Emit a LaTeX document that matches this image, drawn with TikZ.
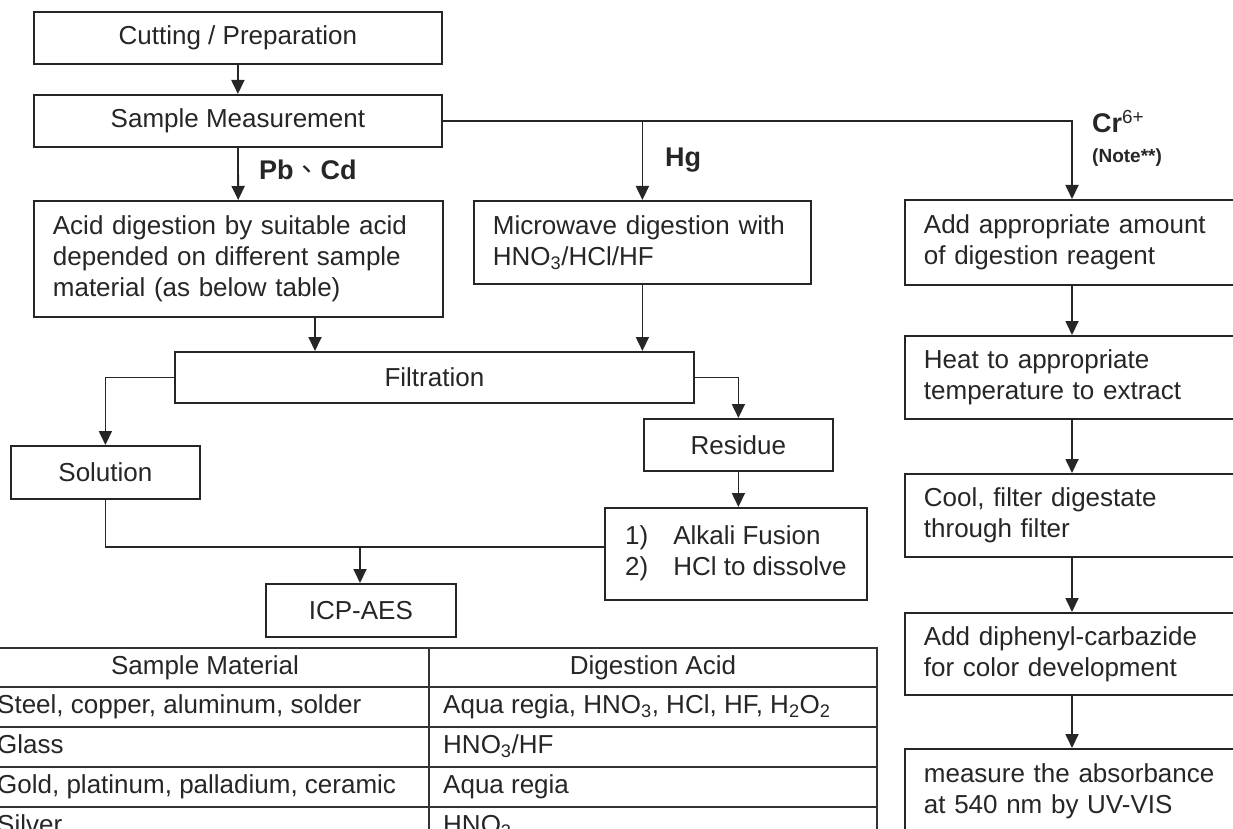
\documentclass[tikz,border=0pt]{standalone}
\usepackage{fontspec}
\setmainfont{Liberation Sans}
\newfontfamily\cjk{Noto Sans CJK TC}
\usetikzlibrary{arrows.meta}
\begin{document}
\begin{tikzpicture}[x=1pt,y=-1pt,
  box/.style={draw=black!85, line width=1.8pt, inner sep=0pt, anchor=north west, text=black!85, font=\fontsize{26}{31}\selectfont},
  cbox/.style={box, align=center},
  lbox/.style={box, align=left, inner xsep=19pt},
  arr/.style={draw=black!85, line width=1.8pt, -{Triangle[length=14pt,width=13pt]}},
  ln/.style={draw=black!85, line width=1.8pt},
  lab/.style={font=\fontsize{27}{30}\selectfont\bfseries, anchor=west, inner sep=0pt, text=black!85},
  tline/.style={draw=black!80, line width=1.5pt},
  cell/.style={font=\fontsize{26}{31}\selectfont, inner sep=0pt, text=black!85, text height=19pt, text depth=6pt}
]
\useasboundingbox (0,0) rectangle (1233,829);
\fill[white] (0,0) rectangle (1233,829);
\clip (0,0) rectangle (1233,829);

% left / middle flow
\node[cbox, minimum width=408pt, minimum height=52pt] (cut) at (33,11) {Cutting / Preparation};
\node[cbox, minimum width=408pt, minimum height=52pt] (meas) at (33,94) {Sample Measurement};
\node[lbox, text width=371pt, minimum height=116pt] (acid) at (33,200) {Acid digestion by suitable acid\\depended on different sample\\material (as below table)};
\node[lbox, text width=299pt, minimum height=83pt] (micro) at (473,200) {Microwave digestion with\\HNO\textsubscript{3}/HCl/HF};
\node[cbox, minimum width=519pt, minimum height=51pt] (filt) at (174,351) {Filtration};
\node[cbox, minimum width=189pt, minimum height=53pt] (sol) at (10,445) {Solution};
\node[cbox, minimum width=189pt, minimum height=52pt] (res) at (643,418) {Residue};
\node[box, minimum width=262pt, minimum height=92pt] (alk) at (604,507) {\begin{tabular}{@{}l@{\hspace{25pt}}l@{}}1) & Alkali Fusion\\ 2) & HCl to dissolve\end{tabular}};
\node[cbox, minimum width=190pt, minimum height=53pt] (icp) at (265,583) {ICP-AES};

% right column
\node[lbox, text width=308pt, minimum height=85pt] (add) at (904,199) {Add appropriate amount\\of digestion reagent};
\node[lbox, text width=308pt, minimum height=83pt] (heat) at (904,335) {Heat to appropriate\\temperature to extract};
\node[lbox, text width=308pt, minimum height=83pt] (cool) at (904,473) {Cool, filter digestate\\through filter};
\node[lbox, text width=308pt, minimum height=82pt] (diph) at (904,612) {Add diphenyl-carbazide\\for color development};
\node[lbox, text width=308pt, minimum height=84pt] (msr) at (904,748) {measure the absorbance\\at 540 nm by UV-VIS};

% labels
\node[lab] (pbcd) at (259,170) {Pb{\cjk\mdseries 、}Cd};
\node[lab] (hg) at (665,160) {Hg};
\node[lab, anchor=base west] (cr) at (1092,133) {Cr\textsuperscript{\mdseries 6+}};
\node[font=\fontsize{19}{22}\selectfont\bfseries, anchor=west, inner sep=0pt, text=black!85] (note) at (1092,158) {(Note**)};

% connectors
\coordinate (crx) at (1072,0);
\coordinate (ax) at (315,0);
\coordinate (join) at (360,547);
\draw[arr] (cut) -- (meas);
\draw[arr] (meas) -- (acid);
\draw[arr] (meas.east) -| (add.north -| crx);
\draw[arr] (micro.north |- meas.east) -- (micro.north);
\draw[arr] (acid.south -| ax) -- (filt.north -| ax);
\draw[arr] (micro.south) -- (micro.south |- filt.north);
\draw[arr] (filt.west) -| (sol.north);
\draw[arr] (filt.east) -| (res.north);
\draw[arr] (res) -- (res.south |- alk.north);
\draw[ln] (sol.south) |- (join) -- (join -| alk.west);
\draw[arr] (join) -- (join |- icp.north);
\draw[arr] (add.south -| crx) -- (heat.north -| crx);
\draw[arr] (heat.south -| crx) -- (cool.north -| crx);
\draw[arr] (cool.south -| crx) -- (diph.north -| crx);
\draw[arr] (diph.south -| crx) -- (msr.north -| crx);

% table
\draw[tline] (-19,648) rectangle (877,880);
\draw[tline] (429,648) -- (429,880);
\foreach \yy in {687,727,767,807,847} \draw[tline] (-19,\yy) -- (877,\yy);
\node[cell] (h1) at (205,667.5) {Sample Material};
\node[cell] (h2) at (653,667.5) {Digestion Acid};
\node[cell, anchor=west] (m1) at (-3,707) {Steel, copper, aluminum, solder};
\node[cell, anchor=west] (a1) at (443,707) {Aqua regia, HNO\textsubscript{3}, HCl, HF, H\textsubscript{2}O\textsubscript{2}};
\node[cell, anchor=west] (m2) at (-3,747) {Glass};
\node[cell, anchor=west] (a2) at (443,747) {HNO\textsubscript{3}/HF};
\node[cell, anchor=west] (m3) at (-3,787) {Gold, platinum, palladium, ceramic};
\node[cell, anchor=west] (a3) at (443,787) {Aqua regia};
\node[cell, anchor=west] (m4) at (-3,827) {Silver};
\node[cell, anchor=west] (a4) at (443,827) {HNO\textsubscript{3}};
\end{tikzpicture}
\end{document}
